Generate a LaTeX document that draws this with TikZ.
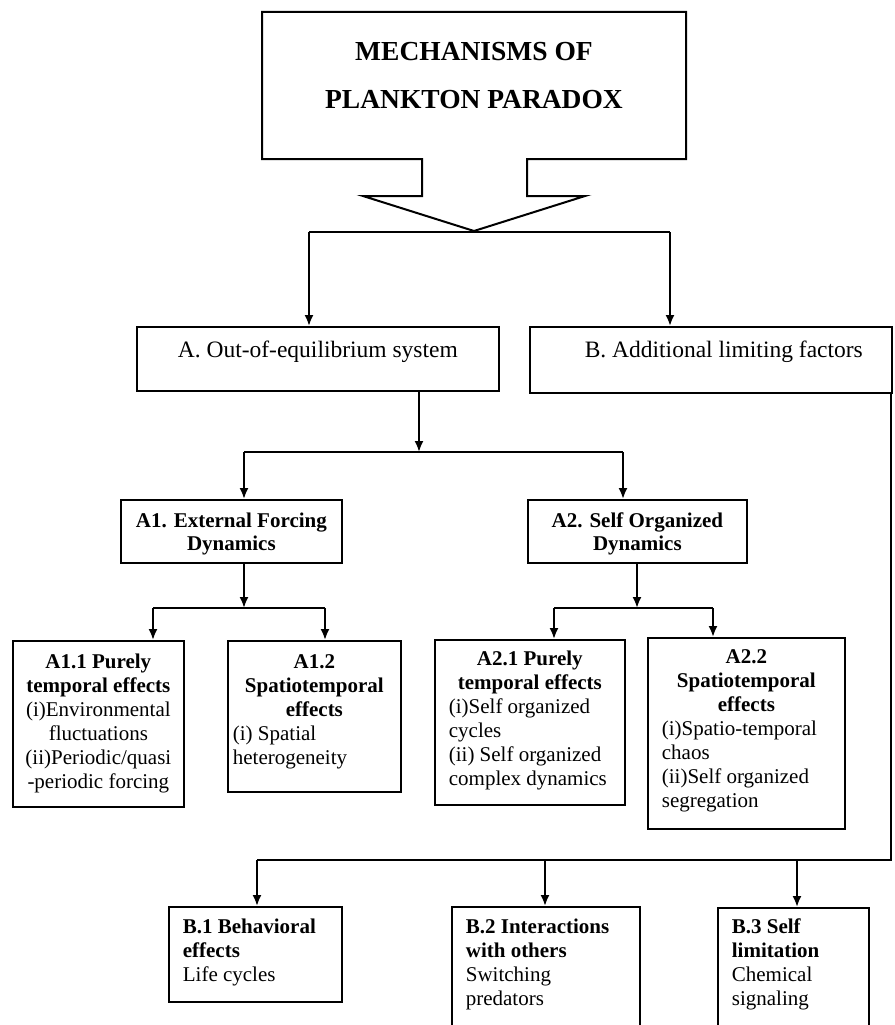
\documentclass[tikz,border=0pt]{standalone}
\usepackage{fontspec}
\setmainfont{Liberation Serif}
\usetikzlibrary{arrows.meta}
\newcommand\boxhead[1]{{\centering\bfseries #1\par}}
\newcommand\boxitems[2]{{\raggedright\leftskip=#1\relax #2\par}}
\tikzset{
  bx/.style={draw, line width=1.7pt, inner sep=0pt, anchor=north west,
    font=\fontsize{21}{24}\selectfont},
  conn/.style={line width=2pt},
  arr/.style={line width=2pt, -{Latex[length=11pt,width=9pt]}},
}
\begin{document}
\begin{tikzpicture}[x=1pt,y=-1pt]
\useasboundingbox (0,0) rectangle (894,1025);
\fill[white] (0,0) rectangle (894,1025);

% title block arrow
\draw[line width=2pt] (262,12) -- (686,12) -- (686,159) -- (527,159) -- (527,196)
  -- (585,196) -- (474,231) -- (363,196) -- (422,196) -- (422,159) -- (262,159) -- cycle;
\node[anchor=base, inner sep=0pt, font=\bfseries\fontsize{27.5}{48}\selectfont] (title) at (474,60)
  {\parbox[t]{400pt}{\centering MECHANISMS OF\\PLANKTON PARADOX}};

% level A / B
\node[bx, text height=30.5pt, text depth=33.5pt] (A) at (136,326)
  {\parbox[t]{362pt}{\centering\fontsize{23.5}{26}\selectfont A. Out-of-equilibrium system}};
\node[bx, text height=31pt, text depth=35pt] (B) at (529,326)
  {\parbox[t]{362pt}{\raggedleft\fontsize{23.5}{26}\selectfont B. Additional limiting factors\kern29pt}};

% A1 / A2
\node[bx, text height=28pt, text depth=35pt] (A1) at (120,499)
  {\parbox[t]{221pt}{\centering\bfseries\fontsize{21}{22.5}\selectfont A1. External Forcing\\Dynamics}};
\node[bx, text height=28pt, text depth=35pt] (A2) at (527,499)
  {\parbox[t]{219pt}{\centering\bfseries\fontsize{21}{22.5}\selectfont A2. Self Organized\\Dynamics}};

% third level
\node[bx, text height=28pt, text depth=138pt] (A11) at (12,640)
  {\parbox[t]{171pt}{\centering\textbf{A1.1 Purely}\\\textbf{temporal effects}\\(i)Environmental\\fluctuations\\(ii)Periodic/quasi\\-periodic forcing}};
\node[bx, text height=28pt, text depth=123pt] (A12) at (227,640)
  {\parbox[t]{173pt}{\boxhead{A1.2\\Spatiotemporal\\effects}\boxitems{5pt}{(i) Spatial\\heterogeneity}}};
\node[bx, text height=26pt, text depth=139pt] (A21) at (434,639)
  {\parbox[t]{190pt}{\boxhead{A2.1 Purely\\temporal effects}\boxitems{14pt}{(i)Self organized\\cycles\\(ii) Self organized\\complex dynamics}}};
\node[bx, text height=26pt, text depth=165pt] (A22) at (647,637)
  {\parbox[t]{197pt}{\boxhead{A2.2\\Spatiotemporal\\effects}\boxitems{14pt}{(i)Spatio-temporal\\chaos\\(ii)Self organized\\segregation}}};

% B children
\node[bx, text height=27pt, text depth=68pt] (B1) at (168,906)
  {\parbox[t]{173pt}{\boxitems{14pt}{\textbf{B.1 Behavioral}\\\textbf{effects}\\Life cycles}}};
\node[bx, text height=27pt, text depth=140pt] (B2) at (451,906)
  {\parbox[t]{188pt}{\boxitems{14pt}{\textbf{B.2 Interactions}\\\textbf{with others}\\Switching\\predators}}};
\node[bx, text height=26pt, text depth=140pt] (B3) at (717,907)
  {\parbox[t]{151pt}{\boxitems{14pt}{\textbf{B.3 Self}\\\textbf{limitation}\\Chemical\\signaling}}};

% connectors: title -> A, B
\coordinate (tl) at (309,232);
\coordinate (tr) at (670,232);
\draw[conn] (tl) -- (tr);
\draw[arr] (tl) -- (tl |- A.north);
\draw[arr] (tr) -- (tr |- B.north);

% A -> A1, A2
\coordinate (ja) at (419,452);
\coordinate (ja1) at (244,452);
\coordinate (ja2) at (623,452);
\draw[arr] (ja |- A.south) -- (ja);
\draw[conn] (ja1) -- (ja2);
\draw[arr] (ja1) -- (ja1 |- A1.north);
\draw[arr] (ja2) -- (ja2 |- A2.north);

% A1 -> A1.1, A1.2
\coordinate (jb) at (244,608);
\coordinate (jb1) at (153,608);
\coordinate (jb2) at (325,608);
\draw[arr] (jb |- A1.south) -- (jb);
\draw[conn] (jb1) -- (jb2);
\draw[arr] (jb1) -- (jb1 |- A11.north);
\draw[arr] (jb2) -- (jb2 |- A12.north);

% A2 -> A2.1, A2.2
\coordinate (jc) at (637,608);
\coordinate (jc1) at (554,608);
\coordinate (jc2) at (713,608);
\draw[arr] (jc |- A2.south) -- (jc);
\draw[conn] (jc1) -- (jc2);
\draw[arr] (jc1) -- (jc1 |- A21.north);
\draw[arr] (jc2) -- (jc2 |- A22.north);

% B -> B.1, B.2, B.3
\coordinate (jd) at (891,860);
\coordinate (jd1) at (257,860);
\coordinate (jd2) at (545,860);
\coordinate (jd3) at (797,860);
\draw[conn, line join=miter] (jd |- B.south) -- (jd) -- (jd1);
\draw[arr] (jd1) -- (jd1 |- B1.north);
\draw[arr] (jd2) -- (jd2 |- B2.north);
\draw[arr] (jd3) -- (jd3 |- B3.north);
\end{tikzpicture}
\end{document}
